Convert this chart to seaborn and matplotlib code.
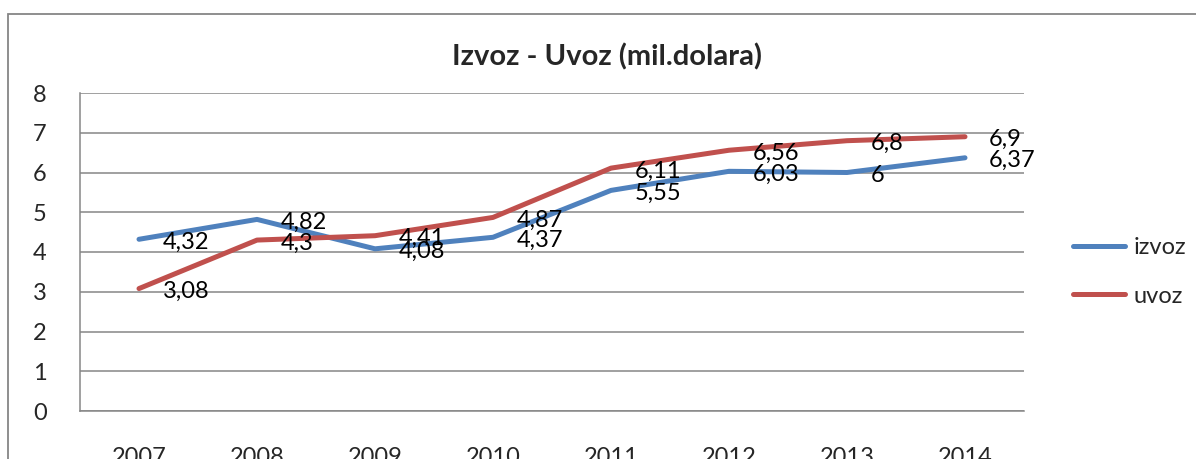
import matplotlib.pyplot as plt
import seaborn as sns
import pandas as pd
from matplotlib.patches import Rectangle

years = ["2007", "2008", "2009", "2010", "2011", "2012", "2013", "2014"]
izvoz = [4.32, 4.82, 4.08, 4.37, 5.55, 6.03, 6.0, 6.37]
uvoz = [3.08, 4.3, 4.41, 4.87, 6.11, 6.56, 6.8, 6.9]
series = ["izvoz", "uvoz"]
colors = ["#4F81BD", "#C0504D"]

df = pd.DataFrame({
    "godina": years * 2,
    "vrijednost": izvoz + uvoz,
    "serija": ["izvoz"] * len(years) + ["uvoz"] * len(years),
})

sns.set_style("white")
plt.rcParams["font.family"] = ["Lato", "DejaVu Sans"]

fig = plt.figure(figsize=(11.96, 4.59), dpi=100)
ax = fig.add_axes([80/1196, 1-411/459, (1024-80)/1196, (411-93)/459])

sns.lineplot(data=df, x="godina", y="vrijednost", hue="serija", palette=colors,
             linewidth=3.6, solid_capstyle="round", ax=ax, legend=True)

def lbl(v):
    s = f"{v:.2f}".rstrip("0").rstrip(".")
    return s.replace(".", ",")

# oznake podataka desno od tocaka
for vals in [izvoz, uvoz]:
    for yr, v in zip(years, vals):
        ax.annotate(lbl(v), (yr, v), xytext=(17, -2), textcoords="offset points",
                    ha="left", va="center", fontsize=17, color="black")

ax.set_xlim(-0.5, 7.5)
ax.set_ylim(0, 8)
ax.set_yticks(range(0, 9))
ax.yaxis.grid(True, color="#868686", linewidth=1.1)
ax.set_xlabel("")
ax.set_ylabel("")
ax.tick_params(axis="both", length=0, labelsize=17)
ax.tick_params(axis="y", pad=24)
ax.tick_params(axis="x", pad=26)
for side in ["top", "right"]:
    ax.spines[side].set_visible(False)
for side in ["left", "bottom"]:
    ax.spines[side].set_color("#868686")
    ax.spines[side].set_linewidth(1.1)

fig.text(607/1196, 1-57/459, "Izvoz - Uvoz (mil.dolara)", ha="center", va="center",
         fontsize=21, fontweight="bold")

handles, labels = ax.get_legend_handles_labels()
ax.legend(handles, labels, loc="center left", bbox_to_anchor=(1052/1196, 1-272/459),
          bbox_transform=fig.transFigure, frameon=False, fontsize=17,
          handlelength=2.2, handletextpad=0.35, labelspacing=1.15)

fig.patches.append(Rectangle((8/1196, -0.1), 1.2, 1-14/459+0.1, transform=fig.transFigure,
                             fill=False, edgecolor="#868686", linewidth=1.3))

fig.savefig("out.png", dpi=100)
